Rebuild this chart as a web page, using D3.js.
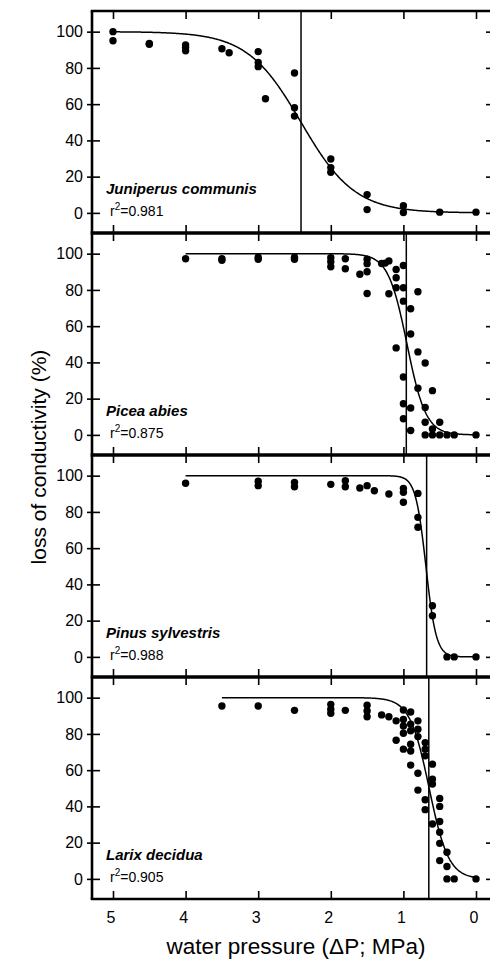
<!DOCTYPE html>
<html>
<head>
<meta charset="utf-8">
<script src="https://cdn.jsdelivr.net/npm/d3@7"></script>
<style>
  body { margin: 0; background: #fff; }
  text { font-family: Arial, "Liberation Sans", sans-serif; fill: #000; }
</style>
</head>
<body>
<svg id="chart" width="490" height="959"></svg>
<script>
// loss of conductivity (%) vs. applied water pressure (MPa), one panel per species

const species = ["Juniperus communis", "Picea abies", "Pinus sylvestris", "Larix decidua"];
const rSquared = ["0.981", "0.875", "0.988", "0.905"];

// fitted curves: pressure at 50% loss, steepness, first pressure drawn
const fitP50 = [2.41, 0.95, 0.69, 0.645];
const fitSlope = [2.7, 7.7, 14, 7.5];
const fitStart = [5, 4, 4, 3.5];
// vertical markers
const markerP = [2.41, 0.96, 0.68, 0.65];

const juniperus = [
    [5, 100], [5, 95], [4.5, 93.5], [4.5, 93], [4, 92.7], [4, 91.2], [4, 89.4],
    [3.5, 90.6], [3.4, 88.4], [3, 89], [3, 83], [3, 80.7], [2.9, 63],
    [2.5, 77.2], [2.5, 58], [2.5, 53.4], [2, 29.7], [2, 25], [2, 22.4],
    [1.5, 10.1], [1.5, 1.8], [1, 4], [1, 0.2], [0.5, 0.4], [0, 0.4]
];
const picea = [
    [4, 97.2], [3.5, 97.2], [3.5, 96.3], [3, 98], [3, 96.9], [2.5, 98], [2.5, 96.9],
    [2, 97.8], [2, 95.6], [2, 92.8], [1.8, 97.2], [1.8, 91.7], [1.6, 88.6],
    [1.5, 96.9], [1.5, 94.5], [1.5, 90], [1.5, 78], [1.3, 94.6], [1.2, 96], [1.25, 94.8],
    [1.2, 77.9], [1.1, 91.3], [1.1, 86.7], [1.1, 81.2], [1.1, 48],
    [1, 93.5], [1, 81.2], [1, 73.8], [1, 31.9], [1, 17.2], [1, 8.9],
    [0.9, 69.6], [0.9, 55.7], [0.9, 14.8], [0.9, 2.4],
    [0.8, 79], [0.8, 45.8], [0.8, 25.8], [0.7, 39.7], [0.7, 15.1], [0.7, 7], [0.7, 0],
    [0.6, 24.4], [0.6, 3.3], [0.6, 0], [0.5, 7], [0.5, 0], [0.4, 0], [0.3, 0], [0, 0]
];
const pinus = [
    [4, 95.8], [3, 96.9], [3, 94.5], [2.5, 96.3], [2.5, 93.9], [2, 95.2],
    [1.8, 97.2], [1.8, 93.9], [1.6, 93.2], [1.5, 94.5], [1.4, 91.7], [1.2, 89.9],
    [1, 93], [1, 90.8], [1, 85.3], [0.8, 90.2], [0.8, 77], [0.8, 71.5],
    [0.6, 28.2], [0.6, 22.7], [0.4, 0], [0.3, 0], [0, 0]
];
const larix = [
    [3.5, 95.4], [3, 95.4], [2.5, 93], [2, 96.3], [2, 93.6], [2, 91.4], [1.8, 93],
    [1.5, 95.8], [1.5, 92.7], [1.5, 89.5], [1.3, 90.5], [1.2, 89.5], [1.1, 87.2], [1.1, 76.5],
    [1, 93.2], [1, 88], [1, 84.4], [1, 80.4], [1, 71.6],
    [0.9, 92.1], [0.9, 85.3], [0.9, 81.7], [0.9, 74.3], [0.9, 70.6], [0.9, 62.8],
    [0.8, 87.2], [0.8, 82.6], [0.8, 78.5], [0.8, 58.3], [0.8, 49],
    [0.7, 75.2], [0.7, 71.6], [0.7, 67.9], [0.7, 43.7], [0.7, 38.2],
    [0.6, 63.3], [0.6, 55], [0.6, 52.3], [0.6, 30.3],
    [0.5, 44.4], [0.5, 40], [0.5, 31.7], [0.5, 25.7], [0.5, 19.6], [0.5, 10.1],
    [0.4, 14.7], [0.4, 6.8], [0.4, 0], [0.3, 0], [0, 0]
];
const panelData = [juniperus, picea, pinus, larix];

const xTicks = [5, 4, 3, 2, 1, 0];
const yTicks = [0, 20, 40, 60, 80, 100];

const left = 92, right = 491;
const firstTop = 11, panelHeight = 222;

const svg = d3.select("#chart");

const x = d3.scaleLinear().domain([5, 0]).range([113, 476]);

function sigmoid(p, i) {
    return 100 / (1 + Math.exp(-fitSlope[i] * (p - fitP50[i])));
}

panelData.forEach((points, i) => {
    let top = firstTop + i * panelHeight;
    let bottom = top + panelHeight;
    let y = d3.scaleLinear().domain([-11.1, 111.4]).range([bottom, top]);
    let g = svg.append('g').attr('class', "panel");

    // ticks: left crosses the axis, others point inward
    let ax = g.append('g').attr('transform', `translate(${left},0)`)
        .call(d3.axisLeft(y).tickValues(yTicks).tickSize(5).tickPadding(4));
    ax.selectAll("text").style('font-size', "16px").style('font-family', "Arial, 'Liberation Sans', sans-serif");
    g.append('g').attr('transform', `translate(${left},0)`)
        .call(d3.axisRight(y).tickValues(yTicks).tickSize(8).tickFormat(""));
    g.append('g').attr('transform', `translate(${right},0)`)
        .call(d3.axisLeft(y).tickValues(yTicks).tickSize(5).tickFormat(""));
    g.append('g').attr('transform', `translate(0,${top})`)
        .call(d3.axisBottom(x).tickValues(xTicks).tickSize(8).tickFormat(""));
    g.append('g').attr('transform', `translate(0,${bottom})`)
        .call(d3.axisTop(x).tickValues(xTicks).tickSize(8).tickFormat(""));
    g.selectAll(".domain").remove();
    g.selectAll(".tick line").attr('stroke', "#000").attr('stroke-width', 1.6);

    // vertical marker
    g.append('line')
        .attr('x1', x(markerP[i])).attr('x2', x(markerP[i]))
        .attr('y1', top).attr('y2', bottom)
        .attr('stroke', "#000").attr('stroke-width', 1.5);

    // fitted curve
    let ps = d3.range(fitStart[i], -0.0001, -0.01);
    let line = d3.line().x((p) => x(p)).y((p) => y(sigmoid(p, i)));
    g.append('path')
        .attr('d', line(ps))
        .attr('fill', "none").attr('stroke', "#000").attr('stroke-width', 1.5);

    // measurements
    g.selectAll("circle.pt").data(points).enter().append('circle')
        .attr('class', "pt")
        .attr('cx', (d) => x(d[0]))
        .attr('cy', (d) => y(d[1]))
        .attr('r', 3.7)
        .attr('fill', "#000");

    g.append('text')
        .attr('x', 106).attr('y', top + 183)
        .style('font-size', "15px").style('font-weight', "bold").style('font-style', "italic")
        .text(species[i]);
    let r2 = g.append('text')
        .attr('x', 110).attr('y', top + 205)
        .style('font-size', "14px");
    r2.append('tspan').text("r");
    r2.append('tspan').attr('dy', -6).style('font-size', "10px").text("2");
    r2.append('tspan').attr('dy', 6).text("=" + rSquared[i]);

    // frame
    g.append('line').attr('x1', left).attr('x2', left).attr('y1', top).attr('y2', bottom)
        .attr('stroke', "#000").attr('stroke-width', 2.6);
    g.append('line').attr('x1', left - 1.3).attr('x2', right).attr('y1', top).attr('y2', top)
        .attr('stroke', "#000").attr('stroke-width', i == 0 ? 2.6 : 3.6);
});

let finalBottom = firstTop + panelData.length * panelHeight;
svg.append('line').attr('x1', left - 1.3).attr('x2', right)
    .attr('y1', finalBottom).attr('y2', finalBottom)
    .attr('stroke', "#000").attr('stroke-width', 2.6);

svg.append('g').selectAll("text").data(xTicks).enter().append('text')
    .attr('x', (d) => x(d) - 2)
    .attr('y', finalBottom + 24)
    .attr('text-anchor', "middle")
    .style('font-size', "16px")
    .text((d) => d);

svg.append('text')
    .attr('x', 296).attr('y', 954)
    .attr('text-anchor', "middle")
    .style('font-size', "22.5px")
    .text("water pressure (\u0394P; MPa)");

svg.append('text')
    .attr('transform', `translate(46,457) rotate(-90)`)
    .attr('text-anchor', "middle")
    .style('font-size', "21px")
    .text("loss of conductivity (%)");
</script>
</body>
</html>
